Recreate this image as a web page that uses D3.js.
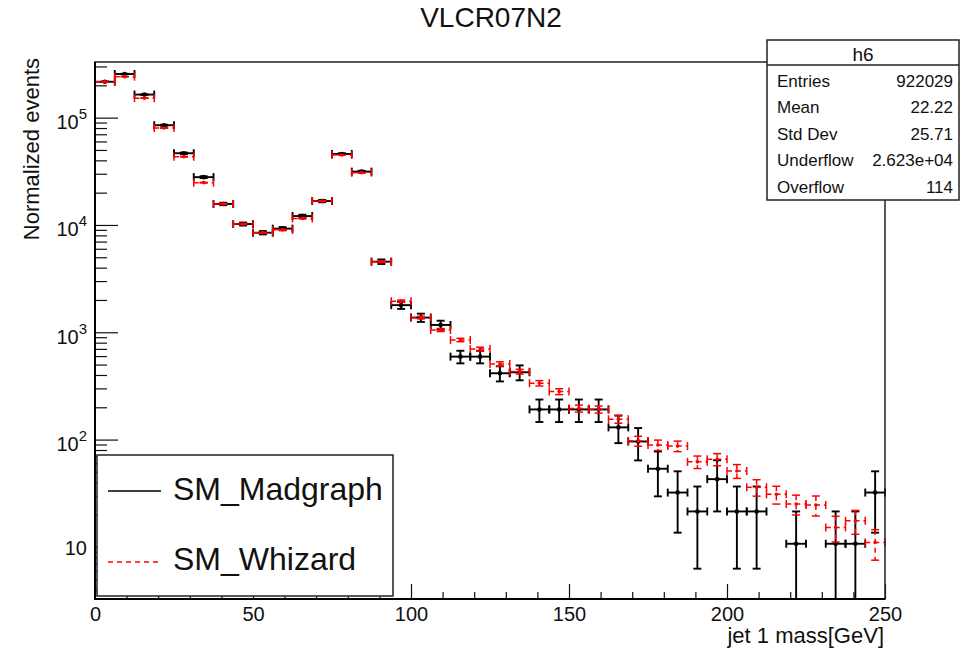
<!DOCTYPE html>
<html>
<head>
<meta charset="utf-8">
<script src="https://cdn.jsdelivr.net/npm/d3@7"></script>
<style>
  body { margin: 0; background: #fff; }
  svg { display: block; font-family: "Liberation Sans", Arial, Helvetica, sans-serif; }
</style>
</head>
<body>
<svg id="chart" width="962" height="652"></svg>
<script>
// ---- histogram definition -------------------------------------------------
const TITLE = "VLCR07N2";
const X_TITLE = "jet 1 mass[GeV]";
const Y_TITLE = "Normalized events";
const X_MIN = 0, X_MAX = 250, BIN_WIDTH = 6.25;   // 40 bins

// bin contents (normalized events per bin)
const madgraph = [
  2.16e5, 2.55e5, 1.64e5, 8.5e4, 4.66e4, 2.79e4, 1.57e4, 1.02e4, 8470, 9240,
  1.21e4, 1.67e4, 4.59e4, 3.14e4, 4550, 1790, 1370, 1170, 593, 593,
  415, 424, 191, 191, 191, 191, 130, 96, 53.5, 32.1,
  21.4, 42.8, 21.4, 21.4, 0, 10.7, 0, 10.7, 10.7, 32.1
];
const whizard = [
  2.16e5, 2.41e5, 1.52e5, 8.0e4, 4.33e4, 2.48e4, 1.57e4, 1.02e4, 8470, 9000,
  1.15e4, 1.67e4, 4.49e4, 3.07e4, 4550, 1950, 1370, 1050, 848, 698,
  507, 430, 335, 280, 195, 191, 155, 97, 89, 87,
  62, 65.5, 51, 36, 30.9, 25.1, 24.6, 15.2, 17.5, 11
];
// per-event weight of each sample: bin error = sqrt(content * weight)
const MADGRAPH_WEIGHT = 10.7;
const WHIZARD_WEIGHT = 1.1;

const legendLabels = ["SM_Madgraph", "SM_Whizard"];
const xMajorTicks = [0, 50, 100, 150, 200, 250];
const xMinorStep = 10;
const yDecades = [1, 2, 3, 4, 5];

const statsTitle = "h6";
const statsLabels = ["Entries", "Mean", "Std Dev", "Underflow", "Overflow"];
const statsValues = ["922029", "22.22", "25.71", "2.623e+04", "114"];

// ---- layout ---------------------------------------------------------------
const frame = { left: 95, right: 885, top: 62, bottom: 599 };
const svg = d3.select("#chart");

const x = d3.scaleLinear([X_MIN, X_MAX], [frame.left, frame.right]);
const y = d3.scaleLog([3.27, 3.3e5], [frame.bottom, frame.top]).clamp(true);

// ---- title ----------------------------------------------------------------
svg.append("text").attr("x", 491).attr("y", 27)
  .attr("text-anchor", "middle").attr("font-size", 28).attr("fill", "#111")
  .text(TITLE);

// ---- axes -----------------------------------------------------------------
const xMinorVals = d3.range(X_MIN, X_MAX + 0.001, xMinorStep).filter(v => v % 50 !== 0);
svg.append("g").attr("transform", `translate(0,${frame.bottom})`)
  .call(d3.axisBottom(x).tickValues(xMinorVals).tickSizeInner(-7).tickSizeOuter(0).tickFormat(""))
  .call(g => g.select(".domain").remove())
  .call(g => g.selectAll("line").attr("stroke", "#111").attr("stroke-width", 1.2));

svg.append("g").attr("transform", `translate(0,${frame.bottom})`)
  .call(d3.axisBottom(x).tickValues(xMajorTicks).tickSizeInner(-15).tickSizeOuter(0)
        .tickPadding(8).tickFormat(d3.format("d")))
  .call(g => g.select(".domain").remove())
  .call(g => g.selectAll("line").attr("stroke", "#111").attr("stroke-width", 1.2))
  .call(g => g.selectAll("text").attr("font-size", 20).attr("fill", "#111")
        .attr("font-family", "Liberation Sans, Arial, sans-serif"));

const yMinorVals = [];
for (let p = 0; p <= 5; p++) {
  for (let m = 2; m <= 9; m++) {
    const v = m * Math.pow(10, p);
    if (v >= 3.27 && v <= 3.3e5) yMinorVals.push(v);
  }
}
svg.append("g").attr("transform", `translate(${frame.left},0)`)
  .call(d3.axisLeft(y).tickValues(yMinorVals).tickSizeInner(-12).tickSizeOuter(0).tickFormat(""))
  .call(g => g.select(".domain").remove())
  .call(g => g.selectAll("line").attr("stroke", "#111").attr("stroke-width", 1.2));

const yMajor = svg.append("g").attr("transform", `translate(${frame.left},0)`)
  .call(d3.axisLeft(y).tickValues(yDecades.map(p => Math.pow(10, p)))
        .tickSizeInner(-23).tickSizeOuter(0).tickFormat(""))
  .call(g => g.select(".domain").remove())
  .call(g => g.selectAll("line").attr("stroke", "#111").attr("stroke-width", 1.2));

// decade labels: "10" alone, otherwise 10 with a superscript exponent
yMajor.selectAll(".tick").each(function(d) {
  const p = Math.round(Math.log10(d));
  const t = d3.select(this).append("text")
    .attr("x", -8).attr("fill", "#111").attr("text-anchor", "end")
    .attr("font-size", 20);
  if (p === 1) {
    t.attr("y", 8).text("10");
  } else {
    t.attr("y", 11);
    t.append("tspan").text("10");
    t.append("tspan").attr("font-size", 15).attr("dy", -10).text(p);
  }
});

// axis titles
svg.append("text").attr("x", 884).attr("y", 643)
  .attr("text-anchor", "end").attr("font-size", 22).attr("fill", "#111")
  .text(X_TITLE);
svg.append("text").attr("transform", "translate(39,58) rotate(-90)")
  .attr("text-anchor", "end").attr("font-size", 22).attr("fill", "#111")
  .text(Y_TITLE);

// ---- histograms with error bars -------------------------------------------
function drawHist(values, weight, color, dashed, markerR, lw) {
  const g = svg.append("g");
  const bins = values.map((v, i) => ({
    v, lo: X_MIN + i * BIN_WIDTH, hi: X_MIN + (i + 1) * BIN_WIDTH
  })).filter(b => b.v > 0);
  const dash = dashed ? "5,4" : null;
  const cap = 4;
  bins.forEach(b => {
    const e = Math.sqrt(b.v * weight);
    const cx = x((b.lo + b.hi) / 2), cy = y(b.v);
    const x0 = x(b.lo), x1 = x(b.hi);
    const yt = y(b.v + e);
    const lowClipped = b.v - e <= 3.27;
    const yb = y(Math.max(b.v - e, 3.27));
    // horizontal bar (bin width)
    g.append("line").attr("x1", x0).attr("x2", x1).attr("y1", cy).attr("y2", cy)
      .attr("stroke", color).attr("stroke-width", lw).attr("stroke-dasharray", dash);
    // vertical bar (statistical error)
    g.append("line").attr("x1", cx).attr("x2", cx).attr("y1", yt).attr("y2", yb)
      .attr("stroke", color).attr("stroke-width", lw).attr("stroke-dasharray", dash);
    // end caps
    [x0, x1].forEach(xx => g.append("line")
      .attr("x1", xx).attr("x2", xx).attr("y1", cy - cap).attr("y2", cy + cap)
      .attr("stroke", color).attr("stroke-width", lw));
    g.append("line").attr("x1", cx - cap).attr("x2", cx + cap).attr("y1", yt).attr("y2", yt)
      .attr("stroke", color).attr("stroke-width", lw);
    if (!lowClipped) {
      g.append("line").attr("x1", cx - cap).attr("x2", cx + cap).attr("y1", yb).attr("y2", yb)
        .attr("stroke", color).attr("stroke-width", lw);
    }
    g.append("circle").attr("cx", cx).attr("cy", cy).attr("r", markerR).attr("fill", color);
  });
}
drawHist(madgraph, MADGRAPH_WEIGHT, "#000", false, 2.3, 1.9);
drawHist(whizard, WHIZARD_WEIGHT, "#ff0000", true, 1.8, 1.5);

// ---- frame ----------------------------------------------------------------
svg.append("rect")
  .attr("x", frame.left).attr("y", frame.top)
  .attr("width", frame.right - frame.left).attr("height", frame.bottom - frame.top)
  .attr("fill", "none").attr("stroke", "#222").attr("stroke-width", 1.5);
svg.append("path")
  .attr("d", `M${frame.left},${frame.top}V${frame.bottom}H${frame.right}`)
  .attr("fill", "none").attr("stroke", "#000").attr("stroke-width", 2);

// ---- legend ---------------------------------------------------------------
const leg = svg.append("g");
leg.append("rect").attr("x", 97).attr("y", 455).attr("width", 296).attr("height", 141)
  .attr("fill", "#fff").attr("stroke", "#222").attr("stroke-width", 1.5);
const legendRows = [
  { label: legendLabels[0], color: "#000", dash: null, ly: 491, ty: 500 },
  { label: legendLabels[1], color: "#ff0000", dash: "5,4", ly: 562, ty: 570 }
];
legendRows.forEach(r => {
  leg.append("line").attr("x1", 108).attr("x2", 161).attr("y1", r.ly).attr("y2", r.ly)
    .attr("stroke", r.color).attr("stroke-width", 1.6).attr("stroke-dasharray", r.dash);
  leg.append("text").attr("x", 173).attr("y", r.ty).attr("font-size", 32).attr("fill", "#111")
    .text(r.label);
});

// ---- statistics box -------------------------------------------------------
const st = svg.append("g");
st.append("rect").attr("x", 767).attr("y", 40).attr("width", 192).attr("height", 160)
  .attr("fill", "#fff").attr("stroke", "#222").attr("stroke-width", 1.5);
st.append("line").attr("x1", 767).attr("x2", 959).attr("y1", 65).attr("y2", 65)
  .attr("stroke", "#222").attr("stroke-width", 1.5);
st.append("text").attr("x", 863).attr("y", 61).attr("text-anchor", "middle")
  .attr("font-size", 19).attr("fill", "#111").text(statsTitle);
statsLabels.forEach((lab, i) => {
  const by = 86.5 + i * 26.6;
  st.append("text").attr("x", 777).attr("y", by).attr("font-size", 17).attr("fill", "#111").text(lab);
  st.append("text").attr("x", 953).attr("y", by).attr("text-anchor", "end")
    .attr("font-size", 17).attr("fill", "#111").text(statsValues[i]);
});
</script>
</body>
</html>
